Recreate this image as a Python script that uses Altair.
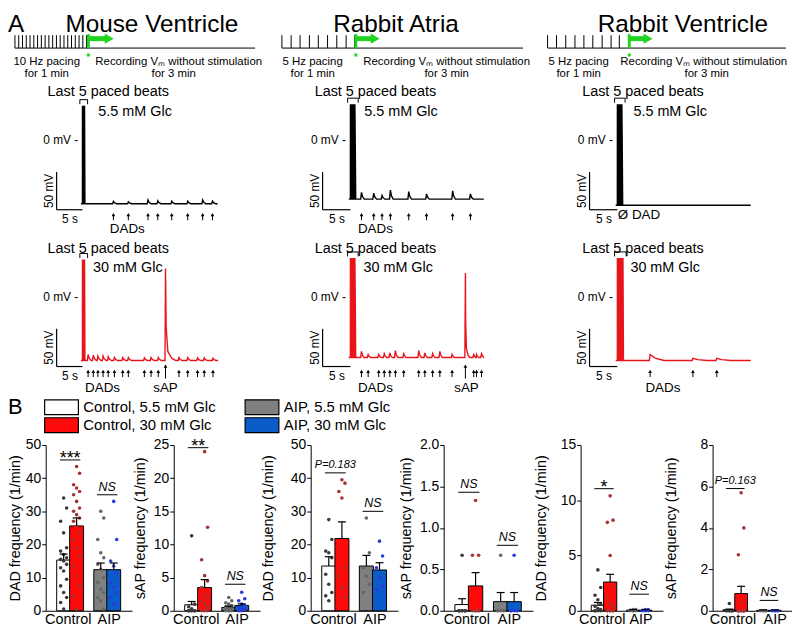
import altair as alt
import pandas as pd

FONT = "Liberation Sans"
TRACE_RED = "#e8141c"
GREEN = "#1fd31f"

# ============================ DATA ============================
# ---- Panel A: protocol schematics (column-local drawing units)
col_titles = ["Mouse Ventricle", "Rabbit Atria", "Rabbit Ventricle"]
pacing_text = ["10 Hz pacing", "5 Hz pacing", "5 Hz pacing"]
pacing_ticks = [
    [7, 10.8, 14.6, 18.4, 22.2, 26, 29.8, 33.6, 37.4, 41.2, 45, 48.8, 52.6, 56.4, 60.2, 64, 67.8, 71.6, 75.4, 79.2],
    [6, 15.3, 24.3, 33.7, 42.7, 52, 61.3, 70.7, 79.3],
    [3.7, 12.7, 22, 31.3, 40.3, 49.3, 58.7, 67.7, 76],
]

# ---- Panel A: representative Vm recordings (time in s, voltage in mV)
mouse_55 = dict(base=-84, peak=46, beats=[0, 0.1, 0.2, 0.3, 0.4], end=26.2,
                dad_t=[6.0, 8.9, 12.7, 14.6, 17.3, 20.4, 23.3, 25.2],
                dad_a=[3, 2.5, 5, 4, 3.5, 3.5, 5, 3.5])
mouse_30 = dict(base=-84, peak=50, beats=[0, 0.1, 0.2, 0.3, 0.4], end=26.3,
                dad_t=[1.1, 2.1, 3.0, 4.0, 5.0, 6.2, 7.8, 8.9, 12.0, 13.3, 14.7, 18.7, 20.4, 22.3, 23.6, 25.3],
                dad_a=[8, 7, 6, 6, 5, 4, 4, 4, 3.5, 4, 4, 4, 4, 3.5, 3.5, 3],
                sap_t=16.1, sap_v=38)
atria_55 = dict(base=-78, peak=48, beats=[0, 0.2, 0.4, 0.6, 0.8], end=24,
                dad_t=[2.0, 4.2, 5.7, 7.2, 10.5, 13.7, 18.4, 21.6],
                dad_a=[9, 8, 5, 12, 10, 7, 11, 7])
atria_30 = dict(base=-80, peak=52, beats=[0, 0.2, 0.4, 0.6, 0.8], end=24,
                dad_t=[2.0, 3.2, 5.1, 6.1, 7.1, 8.1, 9.6, 12.3, 13.4, 14.8, 16.1, 18.3, 22.2, 22.7, 23.6],
                dad_a=[8, 4, 4, 5, 6, 9, 5, 9, 6, 5, 8, 4, 4, 4, 5],
                sap_t=20.7, sap_v=32)
vent_55 = dict(base=-86, peak=48, beats=[0, 0.2, 0.4, 0.6, 0.8], end=24, dad_t=[], dad_a=[])
vent_30 = dict(base=-84, peak=52, beats=[0, 0.25, 0.5, 0.75, 1.0], end=24,
               dad_t=[5.9, 13.6, 17.9], dad_a=[8, 3, 3])

# ---- Panel B: bar charts (mean, SEM, individual cells)
conditions = ["Control, 5.5 mM Glc", "Control, 30 mM Glc", "AIP, 5.5 mM Glc", "AIP, 30 mM Glc"]

mv_dad_mean = [15.3, 25.6, 12.4, 12.4]
mv_dad_sem = [1.8, 2.4, 2.0, 2.0]
mv_dad_pts = [
    [34, 31, 27, 23.5, 19, 18, 17, 16, 15.5, 15, 14, 13, 12, 9.5, 7.5, 5.5, 4, 2.5, 0.5],
    [43.5, 41.5, 38, 37, 36, 35, 33, 31, 30, 29, 28, 27, 25.5, 23.5, 21.5, 19, 16.5, 13.5, 10.5, 7.5, 4.5, 0.5],
    [30, 28, 21.5, 17.5, 16, 14, 12.5, 10, 8.5, 6.5, 5.5, 4, 3, 0.5],
    [33, 21.5, 15, 13.5, 11.5, 8.5, 7, 5.5, 4, 2],
]
mv_dad_sig = [45.5, 35]
mv_dad_sig_text = ["***", "NS"]

mv_sap_mean = [0.9, 3.5, 0.5, 0.8]
mv_sap_sem = [0.5, 1.2, 0.2, 0.25]
mv_sap_pts = [
    [11.3, 1.0, 0.6, 0.3, 0, 0, 0, 0, 0, 0, 0, 0],
    [24, 12.6, 7.7, 5.3, 4.5, 3.5, 2.5, 2, 1.5, 1, 0.5, 0, 0, 0],
    [2.0, 1.5, 1.2, 1.0, 0.8, 0.6, 0.5, 0.3, 0.2, 0, 0, 0, 0],
    [2.8, 1.8, 1.5, 1.0, 0.8, 0.5, 0.3, 0.2, 0, 0],
]
mv_sap_sig = [24.6, 4.0]
mv_sap_sig_text = ["**", "NS"]

ra_dad_mean = [13.5, 21.8, 13.5, 12.3]
ra_dad_sem = [2.8, 5.0, 3.2, 2.2]
ra_dad_pts = [
    [27.5, 21.5, 18, 17.5, 16, 11, 8, 5.5, 4.5, 3],
    [39.5, 38.5, 36, 34, 13, 10.5, 7, 4],
    [28, 17.5, 13, 10.5, 8, 5.5],
    [21, 16.5, 13, 10, 7.5, 6.5],
]
ra_dad_sig = [41.6, 30]
ra_dad_sig_text = ["P=0.183", "NS"]

ra_sap_mean = [0.075, 0.30, 0.11, 0.11]
ra_sap_sem = [0.07, 0.16, 0.11, 0.11]
ra_sap_pts = [
    [0.67, 0, 0, 0, 0, 0, 0, 0, 0],
    [1.33, 0.67, 0.67, 0, 0, 0, 0, 0],
    [0.67, 0, 0, 0, 0, 0],
    [0.67, 0, 0, 0, 0, 0],
]
ra_sap_sig = [1.43, 0.79]
ra_sap_sig_text = ["NS", "NS"]

rv_dad_mean = [0.5, 2.6, 0.05, 0.05]
rv_dad_sem = [0.25, 0.7, 0.05, 0.05]
rv_dad_pts = [
    [3.7, 2.1, 1.4, 1.0, 0.6, 0.4, 0.2, 0.1, 0, 0, 0, 0],
    [10.4, 8.2, 8.0, 5.0, 2.2, 1.2, 0.7, 0.4, 0, 0, 0, 0, 0, 0],
    [0.1, 0.1, 0.05, 0, 0, 0, 0],
    [0.1, 0.1, 0.05, 0.05, 0, 0, 0],
]
rv_dad_sig = [11.05, 1.5]
rv_dad_sig_text = ["*", "NS"]

rv_sap_mean = [0.05, 0.83, 0.02, 0.02]
rv_sap_sem = [0.03, 0.35, 0.02, 0.02]
rv_sap_pts = [
    [0.35, 0, 0, 0, 0, 0, 0, 0],
    [5.7, 4.0, 2.7, 0.4, 0, 0, 0, 0, 0, 0, 0, 0, 0, 0, 0],
    [0, 0, 0, 0, 0],
    [0, 0, 0, 0, 0],
]
rv_sap_sig = [5.9, 0.5]
rv_sap_sig_text = ["P=0.163", "NS"]

ticks_50 = [0, 10, 20, 30, 40, 50]
ticks_25 = [0, 5, 10, 15, 20, 25]
ticks_2 = [0, 0.5, 1.0, 1.5, 2.0]
ticks_15 = [0, 5, 10, 15]
ticks_8 = [0, 2, 4, 6, 8]

# ============================ STYLE / LAYOUT ============================
BAR_COL = ["#ffffff", "#ff0a0a", "#808080", "#0a5cc8"]
DOT_COL = ["#3a3a3a", "#a83232", "#666666", "#2b3bd9"]
LEFT = 38                      # width of first bar panel's y-axis area (rows are origin-aligned)
COL_W = [270, 270, 244]        # full column widths from the page's left edge
SHIFT = [LEFT, 0, 0]           # part of each column lying left of its group origin
SPIKE_OFF = [75, 75, 74]       # px from column left to the paced beats
PX_PER_S = [5.2, 5.6, 5.6]
ROW0_H, TRACE_H, LEG_H, BAR_H = 71, 158, 43, 167
VDOM = [-129, 79]

SCH = [
    dict(title_x=145, line=(7, 249), gx=81, ax=107, pace_x=39, rec_x=172, rec2_x=167),
    dict(title_x=121, line=(6, 249), gx=80.5, ax=105, pace_x=37, rec_x=172, rec2_x=172),
    dict(title_x=140, line=(4, 244), gx=86, ax=110, pace_x=35, rec_x=161, rec2_x=164),
]


def schematic(i):
    W = COL_W[i] - SHIFT[i]
    c = SCH[i]
    X = alt.X("x:Q", scale=alt.Scale(domain=[SHIFT[i], COL_W[i]], nice=False, zero=False), axis=None)
    Y = alt.Y("y:Q", scale=alt.Scale(domain=[0, ROW0_H], nice=False, zero=False, reverse=True), axis=None)
    seg = pd.DataFrame({
        "x": pacing_ticks[i] + [c["line"][0]],
        "x2": pacing_ticks[i] + [c["line"][1]],
        "y": [25] * len(pacing_ticks[i]) + [38],
        "y2": [38] * len(pacing_ticks[i]) + [38],
    })
    layers = [alt.Chart(seg).mark_rule(color="black", strokeWidth=1).encode(x=X, y=Y, x2="x2:Q", y2="y2:Q")]
    gbar = pd.DataFrame({"x": [c["gx"]], "y": [24], "y2": [38]})
    layers.append(alt.Chart(gbar).mark_rule(color=GREEN, strokeWidth=3).encode(x=X, y=Y, y2="y2:Q"))
    shaft = pd.DataFrame({"x": [c["gx"]], "x2": [c["ax"] - 8], "y": [28.5]})
    layers.append(alt.Chart(shaft).mark_rule(color=GREEN, strokeWidth=5).encode(x=X, x2="x2:Q", y=Y))
    head = pd.DataFrame({"x": [c["ax"] - 5], "y": [28.5]})
    layers.append(alt.Chart(head).mark_point(shape="triangle-right", filled=True, size=110, color=GREEN, opacity=1).encode(x=X, y=Y))
    dot = pd.DataFrame({"x": [c["gx"]], "y": [45]})
    layers.append(alt.Chart(dot).mark_square(size=9, color=GREEN, opacity=1).encode(x=X, y=Y))

    def txt(x, y, s, **kw):
        d = pd.DataFrame({"x": [x], "y": [y], "s": [s]})
        return alt.Chart(d).mark_text(font=FONT, color="black", **kw).encode(x=X, y=Y, text="s:N")

    layers.append(txt(c["title_x"], 22, col_titles[i], fontSize=24.5, baseline="alphabetic"))
    if i == 0:
        layers.append(txt(0, 22, "A", fontSize=24.5, baseline="alphabetic", align="left"))
    layers.append(txt(c["pace_x"], 52, pacing_text[i], fontSize=11.5))
    layers.append(txt(c["pace_x"], 64.5, "for 1 min", fontSize=11.5))
    layers.append(txt(c["rec_x"], 52, "Recording V\u2098 without stimulation", fontSize=11.5))
    layers.append(txt(c["rec2_x"], 64.5, "for 3 min", fontSize=11.5))
    return alt.layer(*layers).properties(width=W, height=ROW0_H)


def trace_points(tr, apd, decay, sap_w):
    base = tr["base"]
    pts = [(-0.3, base)]
    for b in tr["beats"]:
        pts += [(b, base), (b + 0.01, tr["peak"]), (b + apd * 0.4, tr["peak"] - 40), (b + apd, base)]
    for d, a in zip(tr["dad_t"], tr["dad_a"]):
        pts += [(d - 0.15, base), (d, base + a), (d + decay * 0.35, base + a * 0.4), (d + decay, base)]
    if tr.get("sap_t") is not None:
        s = tr["sap_t"]
        pts += [(s - 0.1, base), (s, tr["sap_v"]), (s + 0.12 * sap_w, base + 45),
                (s + 0.45 * sap_w, base + 12), (s + 1.2 * sap_w, base + 3), (s + 2.0 * sap_w, base)]
    pts.append((tr["end"], base))
    pts.sort()
    return pd.DataFrame({"t": [p[0] for p in pts], "v": [p[1] for p in pts], "i": list(range(len(pts)))})


def trace_panel(col, tr, color, glc, glc_t, last_t, notes, apd, decay, sap_w=1.0, arrow_v=(-106, -99)):
    W = COL_W[col] - SHIFT[col]
    x0 = -(SPIKE_OFF[col] - SHIFT[col]) / PX_PER_S[col]
    x1 = (COL_W[col] - SPIKE_OFF[col]) / PX_PER_S[col]
    X = alt.X("t:Q", scale=alt.Scale(domain=[x0, x1], nice=False, zero=False), axis=None)
    Y = alt.Y("v:Q", scale=alt.Scale(domain=VDOM, nice=False, zero=False), axis=None)

    def txt(t, v, s, **kw):
        d = pd.DataFrame({"t": [t], "v": [v], "s": [s]})
        return alt.Chart(d).mark_text(font=FONT, color="black", **kw).encode(x=X, y=Y, text="s:N")

    layers = [alt.Chart(trace_points(tr, apd, decay, sap_w)).mark_line(color=color, strokeWidth=1.4)
              .encode(x=X, y=Y, order="i:Q")]
    sb = pd.DataFrame({"t": [-5, -5], "v": [-92, -92], "t2": [-5, 0], "v2": [-42, -92]})
    layers.append(alt.Chart(sb).mark_rule(color="black", strokeWidth=1.2).encode(x=X, y=Y, x2="t2:Q", y2="v2:Q"))
    p = tr["peak"]
    b1 = tr["beats"][-1] + 0.6
    br = pd.DataFrame({"t": [-0.5, -0.5, b1, b1], "v": [p + 2, p + 8, p + 8, p + 2], "i": [0, 1, 2, 3]})
    layers.append(alt.Chart(br).mark_line(color="black", strokeWidth=1).encode(x=X, y=Y, order="i:Q"))
    layers.append(txt(last_t, 64, "Last 5 paced beats", fontSize=14.5))
    layers.append(txt(glc_t, 38, glc, fontSize=14.5))
    layers.append(txt(-0.8, 0, "0 mV -", fontSize=12, align="right"))
    layers.append(txt(-6.4, -67, "50 mV", fontSize=12, angle=270))
    layers.append(txt(-2.4, -104, "5 s", fontSize=12))
    if tr["dad_t"]:
        ar = pd.DataFrame({"t": tr["dad_t"], "v": [arrow_v[0]] * len(tr["dad_t"]), "v2": [arrow_v[1]] * len(tr["dad_t"])})
        layers.append(alt.Chart(ar).mark_rule(color="black", strokeWidth=1).encode(x=X, y=Y, y2="v2:Q"))
        hd = pd.DataFrame({"t": tr["dad_t"], "v": [arrow_v[1] + 0.5] * len(tr["dad_t"])})
        layers.append(alt.Chart(hd).mark_point(shape="triangle-up", filled=True, size=14, color="black", opacity=1).encode(x=X, y=Y))
    if tr.get("sap_t") is not None:
        sa = pd.DataFrame({"t": [tr["sap_t"]], "v": [-108], "v2": [-92]})
        layers.append(alt.Chart(sa).mark_rule(color="black", strokeWidth=1).encode(x=X, y=Y, y2="v2:Q"))
        sh = pd.DataFrame({"t": [tr["sap_t"]], "v": [-91.5]})
        layers.append(alt.Chart(sh).mark_point(shape="triangle-up", filled=True, size=14, color="black", opacity=1).encode(x=X, y=Y))
    for (t, v, s, fs) in notes:
        layers.append(txt(t, v, s, fontSize=fs))
    return alt.layer(*layers).properties(width=W, height=TRACE_H)


row0 = alt.hconcat(*[schematic(i) for i in range(3)], spacing=0)
row1 = alt.hconcat(
    trace_panel(0, mouse_55, "black", "5.5 mM Glc", 10.2, 5.0, [(8.7, -117, "DADs", 13.5)], 0.08, 0.6),
    trace_panel(1, atria_55, "black", "5.5 mM Glc", 9.1, 4.5, [(4.5, -117, "DADs", 13.5)], 0.16, 0.5),
    trace_panel(2, vent_55, "black", "5.5 mM Glc", 9.5, 4.6, [(3.9, -99, "\u00d8 DAD", 13.5)], 0.16, 2.5),
    spacing=0)
row2 = alt.hconcat(
    trace_panel(0, mouse_30, TRACE_RED, "30 mM Glc", 8.8, 5.0, [(3.9, -120, "DADs", 13.5), (16.1, -120, "sAP", 13.5)], 0.08, 0.6, 1.0),
    trace_panel(1, atria_30, TRACE_RED, "30 mM Glc", 8.6, 4.5, [(4.5, -120, "DADs", 13.5), (20.9, -120, "sAP", 13.5)], 0.16, 0.45, 0.4),
    trace_panel(2, vent_30, TRACE_RED, "30 mM Glc", 8.6, 4.6, [(8.2, -120, "DADs", 13.5)], 0.1, 2.5),
    spacing=0)

# ---- legend row (B)
LEG_W = 784 - LEFT
LD0 = -0.267 + LEFT / 202
LX = alt.X("x:Q", scale=alt.Scale(domain=[LD0, LD0 + LEG_W / 202], nice=False, zero=False), axis=None)
LY = alt.Y("y:Q", scale=alt.Scale(domain=[-0.72, -0.72 + LEG_H / 18], nice=False, zero=False, reverse=True), axis=None)
leg_col = [0, 0, 1, 1]
leg_row = [0, 1, 0, 1]
leg_layers = []
for k in range(4):
    d = pd.DataFrame({"x": [leg_col[k]], "y": [leg_row[k]], "s": [conditions[k]]})
    leg_layers.append(alt.Chart(d).mark_point(shape="M-1,-0.44H1V0.44H-1Z", filled=True, size=1156,
                                              fill=BAR_COL[k], stroke="black", strokeWidth=1.2, opacity=1)
                      .encode(x=LX, y=LY))
    leg_layers.append(alt.Chart(d).mark_text(font=FONT, fontSize=15, align="left", dx=22, color="black")
                      .encode(x=LX, y=LY, text="s:N"))
dB = pd.DataFrame({"x": [-0.267], "y": [0], "s": ["B"]})
leg_layers.append(alt.Chart(dB).mark_text(font=FONT, fontSize=22, align="left", color="black").encode(x=LX, y=LY, text="s:N"))
legend_row = alt.layer(*leg_layers).properties(width=LEG_W, height=LEG_H)

# ---- bar panels
POS = [1.15, 2.1, 3.87, 4.82]
GC = [1.625, 4.345]


def bar_panel(title, ticks, fmt, means, sems, pts, sig_y, sig_txt, width, min_ext, lbl=(1.45, 4.45)):
    ymax = ticks[-1]
    X = alt.X("x:Q", scale=alt.Scale(domain=[0.2, 5.8], nice=False, zero=False),
              axis=alt.Axis(values=list(lbl), labelExpr="datum.value < 3 ? 'Control' : 'AIP'", ticks=False, grid=False,
                            title=None, labelFontSize=14.5, labelPadding=2, labelFlush=False, domainColor="black",
                            labelColor="black", labelFont=FONT, labelOverlap=False))
    Y = alt.Y("y:Q", scale=alt.Scale(domain=[0, ymax], nice=False, zero=True),
              axis=alt.Axis(values=ticks, format=fmt, title=title, grid=False, tickSize=4, labelPadding=1,
                            titlePadding=2, minExtent=min_ext, labelFontSize=14, titleFontSize=14.5,
                            titleFontWeight="normal", domainColor="black", tickColor="black",
                            labelColor="black", titleColor="black", labelFont=FONT, titleFont=FONT))
    bw = 0.9 * width / 5.6
    layers = []
    for k in range(4):
        d = pd.DataFrame({"x": [POS[k]], "y": [means[k]]})
        layers.append(alt.Chart(d).mark_bar(size=bw, color=BAR_COL[k], stroke="black", strokeWidth=1).encode(x=X, y=Y))
    for k in range(4):
        d = pd.DataFrame({"xc": [POS[k]] * len(pts[k]), "y": pts[k]})
        layers.append(alt.Chart(d).transform_window(rank="row_number()", sort=[alt.SortField("y", order="descending")])
                      .transform_calculate(x="datum.xc + ((datum.rank % 3) - 1) * 0.22")
                      .mark_circle(size=13, color=DOT_COL[k], opacity=1).encode(x=X, y=Y))
    for k in range(4):
        d = pd.DataFrame({"x": [POS[k]], "y": [means[k]], "y2": [means[k] + sems[k]]})
        layers.append(alt.Chart(d).mark_rule(color="black", strokeWidth=1.2).encode(x=X, y=Y, y2="y2:Q"))
        c = pd.DataFrame({"x": [POS[k]], "y": [means[k] + sems[k]]})
        layers.append(alt.Chart(c).mark_tick(orient="horizontal", size=8, thickness=1.2, color="black", opacity=1).encode(x=X, y=Y))
    for g in range(2):
        d = pd.DataFrame({"x": [GC[g] - 0.75], "x2": [GC[g] + 0.75], "y": [sig_y[g]]})
        layers.append(alt.Chart(d).mark_rule(color="black", strokeWidth=1).encode(x=X, x2="x2:Q", y=Y))
        t = pd.DataFrame({"x": [GC[g]], "y": [sig_y[g]], "s": [sig_txt[g]]})
        s = sig_txt[g]
        if s.startswith("*"):
            mk = dict(fontSize=18, baseline="alphabetic", dy=4)
        elif s == "NS":
            mk = dict(fontSize=12.5, fontStyle="italic", baseline="alphabetic", dy=-4)
        else:
            mk = dict(fontSize=11, fontStyle="italic", baseline="alphabetic", dy=-5)
        layers.append(alt.Chart(t).mark_text(font=FONT, color="black", **mk).encode(x=X, y=Y, text="s:N"))
    return alt.layer(*layers).properties(width=width, height=BAR_H)


row_b = alt.hconcat(
    bar_panel("DAD frequency (1/min)", ticks_50, "d", mv_dad_mean, mv_dad_sem, mv_dad_pts, mv_dad_sig, mv_dad_sig_text, 87, 21),
    bar_panel("sAP frequency (1/min)", ticks_25, "d", mv_sap_mean, mv_sap_sem, mv_sap_pts, mv_sap_sig, mv_sap_sig_text, 87, 24.5),
    bar_panel("DAD frequency (1/min)", ticks_50, "d", ra_dad_mean, ra_dad_sem, ra_dad_pts, ra_dad_sig, ra_dad_sig_text, 88, 33.5),
    bar_panel("sAP frequency (1/min)", ticks_2, ".1f", ra_sap_mean, ra_sap_sem, ra_sap_pts, ra_sap_sig, ra_sap_sig_text, 90, 28.5),
    bar_panel("DAD frequency (1/min)", ticks_15, "d", rv_dad_mean, rv_dad_sem, rv_dad_pts, rv_dad_sig, rv_dad_sig_text, 83, 30.5),
    bar_panel("sAP frequency (1/min)", ticks_8, "d", rv_sap_mean, rv_sap_sem, rv_sap_pts, rv_sap_sig, rv_sap_sig_text, 80, 32.5,
              lbl=(1.4, 4.8)),
    spacing=0)

chart = (alt.vconcat(row0, row1, row2, legend_row, row_b, spacing=0)
         .properties(padding=0)
         .configure(font=FONT)
         .configure_view(stroke=None)
         .configure_text(font=FONT))

chart.save("out.html", embed_options={"renderer": "svg", "actions": False})
